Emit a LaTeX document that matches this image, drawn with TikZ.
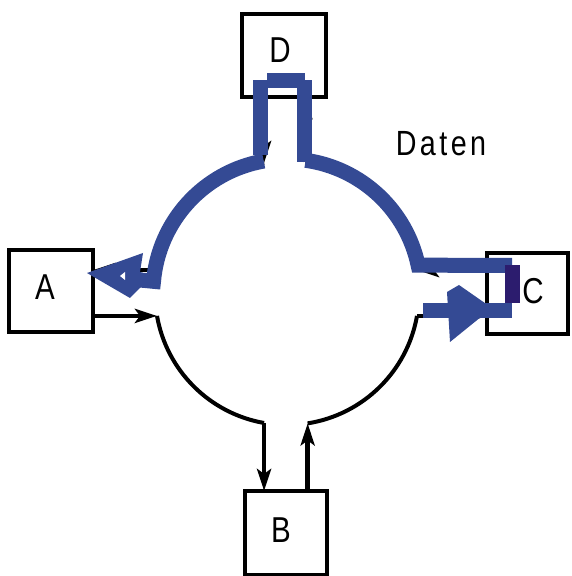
\documentclass[tikz,border=0pt]{standalone}
\usepackage{fontspec}
\newfontfamily\labfont[LetterSpace=0]{Liberation Sans}
\newfontfamily\datfont[LetterSpace=12]{Liberation Sans}
\usetikzlibrary{calc,arrows.meta}
\definecolor{ringblue}{RGB}{52,74,148}
\definecolor{navy}{RGB}{44,28,110}
\begin{document}
\begin{tikzpicture}[x=1pt,y=1pt,
  box/.style={draw=black,line width=4pt,inner sep=0pt,outer sep=0pt},
  lab/.style={font=\labfont\fontsize{36}{36}\selectfont,xscale=0.82,inner sep=0pt},
  ring/.style={draw=black,line width=4pt},
  arr/.style={draw=black,line width=4.5pt,-{Stealth[length=22pt,width=14pt,inset=5pt]}},
  blueband/.style={draw=ringblue,line width=15pt},
  bluefill/.style={fill=ringblue,draw=none}]
\useasboundingbox (0,0) rectangle (571,576);
% boxes
\node[box,minimum width=84pt,minimum height=83pt] (D) at (284,520.5) {};
\node[box,minimum width=84pt,minimum height=82pt] (A) at (51,285) {};
\node[box,minimum width=81pt,minimum height=81pt] (C) at (527.5,282.5) {};
\node[box,minimum width=82pt,minimum height=84pt] (B) at (286,43) {};
\node[lab] (Dl) at (280,526) {D};
\node[lab] (Al) at (45,289) {A};
\node[lab] (Cl) at (533,285) {C};
\node[lab] (Bl) at (281,46) {B};
\node[font=\datfont\fontsize{35}{35}\selectfont,xscale=0.82,inner sep=0pt] (dat) at (441,432) {Daten};
% ring
\coordinate (O) at (287,283);
\coordinate (tl1) at ($(O)+(100:132)$);
\coordinate (tl2) at ($(O)+(170:132)$);
\coordinate (ll1) at ($(O)+(190:132)$);
\coordinate (ll2) at ($(O)+(260:132)$);
\coordinate (lr1) at ($(O)+(279:132)$);
\coordinate (lr2) at ($(O)+(350:132)$);
\coordinate (tr1) at ($(O)+(10:132)$);
\coordinate (tr2) at ($(O)+(82:132)$);
\draw[ring] (tl1) arc[start angle=100,end angle=170,radius=132];
\draw[ring] (ll1) arc[start angle=190,end angle=260,radius=132];
\draw[ring] (lr1) arc[start angle=279,end angle=350,radius=132];
\draw[ring] (tr1) arc[start angle=10,end angle=82,radius=132];
% black connectors
\draw[arr] (A.east |- ll1) -- (ll1);
\draw[arr] (tl2) -- (A.east |- tl2);
\draw[arr] (ll2) -- (ll2 |- B.north);
\draw[arr] (lr1 |- B.north) -- (lr1);
\draw[arr] (lr2) -- (C.west |- lr2);
\draw[arr] (C.west |- tr1) -- (tr1);
\draw[arr] (tr2) -- (tr2 |- D.south);
\draw[arr] (tl1 |- D.south) -- (tl1);
% blue overlay
\fill[bluefill] (253,421) rectangle (268,496);
\fill[bluefill] (267,488) rectangle (305,503);
\fill[bluefill] (297,414) rectangle (312,496);
\draw[blueband] ($(O)+(100:134)$) arc[start angle=100,end angle=175,radius=134] -- (140,296);
\fill[bluefill] (87,303) -- (143,323) -- (140,304) -- (152,300) -- (130,278) -- cycle;
\fill[white] (120,300) -- (125,304) -- (125,296) -- cycle;
\draw[blueband] ($(O)+(82:134)$) arc[start angle=82,end angle=12,radius=134] -- (512,310.5);
\fill[fill=navy] (505,273) rectangle (520,311);
\fill[bluefill] (423,258) rectangle (512,273);
\fill[bluefill] (447,284) -- (459,291) -- (492,268) -- (450,234) -- cycle;
\end{tikzpicture}
\end{document}
